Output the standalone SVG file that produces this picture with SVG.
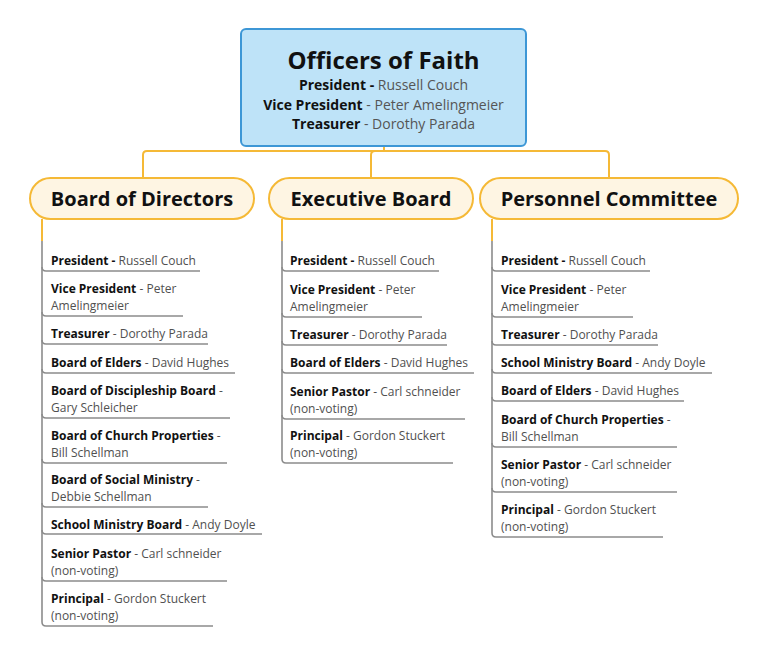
<svg xmlns="http://www.w3.org/2000/svg" width="768" height="657" viewBox="0 0 768 657">
<style>
.bg{fill:#ffffff}
.root{fill:#bee3f8;stroke:#3d97d6;stroke-width:2}
.pill{fill:#fef5e3;stroke:#f5b936;stroke-width:2}
.conn{fill:none;stroke:#f5b936;stroke-width:2}
.item{fill:none;stroke:#8c8c8c;stroke-width:1.6}
.t{font-family:"Open Sans","Noto Sans","DejaVu Sans",sans-serif}
.title{font-size:24px;font-weight:bold;fill:#111}
.rt{font-size:14px;fill:#555;text-anchor:middle}
.ht{font-size:20px;font-weight:bold;fill:#111;text-anchor:middle}
.it{font-size:12px;fill:#505050}
.b{font-weight:bold;fill:#111}
</style>
<rect class="bg" width="768" height="657"/>
<g id="connectors">
<path class="conn" d="M384 146 V151 M147 151 H605 M143 178 V155 Q143 151 147 151 M371 178 V155 Q371 151 375 151 M605 151 Q609 151 609 155 V178"/>
<path class="conn" d="M42 219 V241 M282 219 V241 M492 219 V241"/>
<path class="item" d="M42 241 V622 M282 241 V459 M492 241 V533"/>
<g id="dir-lines">
<path class="item" d="M42 267 Q42 271 46 271 H200"/>
<path class="item" d="M42 312 Q42 316 46 316 H183"/>
<path class="item" d="M42 340 Q42 344 46 344 H208"/>
<path class="item" d="M42 369 Q42 373 46 373 H235"/>
<path class="item" d="M42 414 Q42 418 46 418 H230"/>
<path class="item" d="M42 459 Q42 463 46 463 H227"/>
<path class="item" d="M42 503 Q42 507 46 507 H208"/>
<path class="item" d="M42 530 Q42 534 46 534 H262"/>
<path class="item" d="M42 577 Q42 581 46 581 H227"/>
<path class="item" d="M42 622 Q42 626 46 626 H213"/>
</g>
<g id="exec-lines">
<path class="item" d="M282 267 Q282 271 286 271 H439"/>
<path class="item" d="M282 313 Q282 317 286 317 H422"/>
<path class="item" d="M282 341 Q282 345 286 345 H447"/>
<path class="item" d="M282 369 Q282 373 286 373 H474"/>
<path class="item" d="M282 415 Q282 419 286 419 H465"/>
<path class="item" d="M282 459 Q282 463 286 463 H453"/>
</g>
<g id="pers-lines">
<path class="item" d="M492 267 Q492 271 496 271 H650"/>
<path class="item" d="M492 313 Q492 317 496 317 H633"/>
<path class="item" d="M492 341 Q492 345 496 345 H658"/>
<path class="item" d="M492 369 Q492 373 496 373 H712"/>
<path class="item" d="M492 397 Q492 401 496 401 H684"/>
<path class="item" d="M492 443 Q492 447 496 447 H677"/>
<path class="item" d="M492 488 Q492 492 496 492 H677"/>
<path class="item" d="M492 533 Q492 537 496 537 H663"/>
</g>
</g>
<g id="officers">
<rect class="root" x="241" y="29" width="285" height="117" rx="5"/>
<text class="t title" x="383.5" y="69" text-anchor="middle">Officers of Faith</text>
<text class="t rt" x="383.5" y="90"><tspan class="b">President - </tspan>Russell Couch</text>
<text class="t rt" x="383.5" y="109.5"><tspan class="b">Vice President</tspan> - Peter Amelingmeier</text>
<text class="t rt" x="383.5" y="129"><tspan class="b">Treasurer</tspan> - Dorothy Parada</text>
</g>
<g id="board-of-directors">
<rect class="pill" x="30" y="178" width="224" height="41" rx="20.5"/>
<text class="t ht" x="142" y="206">Board of Directors</text>
<g class="t it">
<text x="51" y="265"><tspan class="b">President - </tspan>Russell Couch</text>
<text x="51" y="293"><tspan class="b">Vice President</tspan> - Peter</text>
<text x="51" y="310">Amelingmeier</text>
<text x="51" y="338"><tspan class="b">Treasurer</tspan> - Dorothy Parada</text>
<text x="51" y="367"><tspan class="b">Board of Elders</tspan> - David Hughes</text>
<text x="51" y="395"><tspan class="b">Board of Discipleship Board</tspan> -</text>
<text x="51" y="412">Gary Schleicher</text>
<text x="51" y="440"><tspan class="b">Board of Church Properties</tspan> -</text>
<text x="51" y="457">Bill Schellman</text>
<text x="51" y="484"><tspan class="b">Board of Social Ministry</tspan> -</text>
<text x="51" y="501">Debbie Schellman</text>
<text x="51" y="529"><tspan class="b">School Ministry Board</tspan> - Andy Doyle</text>
<text x="51" y="558"><tspan class="b">Senior Pastor</tspan> - Carl schneider</text>
<text x="51" y="575">(non-voting)</text>
<text x="51" y="603"><tspan class="b">Principal</tspan> - Gordon Stuckert</text>
<text x="51" y="620">(non-voting)</text>
</g>
</g>
<g id="executive-board">
<rect class="pill" x="269" y="178" width="204" height="41" rx="20.5"/>
<text class="t ht" x="371" y="206">Executive Board</text>
<g class="t it">
<text x="290" y="265"><tspan class="b">President - </tspan>Russell Couch</text>
<text x="290" y="294"><tspan class="b">Vice President</tspan> - Peter</text>
<text x="290" y="311">Amelingmeier</text>
<text x="290" y="339"><tspan class="b">Treasurer</tspan> - Dorothy Parada</text>
<text x="290" y="367"><tspan class="b">Board of Elders</tspan> - David Hughes</text>
<text x="290" y="396"><tspan class="b">Senior Pastor</tspan> - Carl schneider</text>
<text x="290" y="413">(non-voting)</text>
<text x="290" y="440"><tspan class="b">Principal</tspan> - Gordon Stuckert</text>
<text x="290" y="457">(non-voting)</text>
</g>
</g>
<g id="personnel-committee">
<rect class="pill" x="480" y="178" width="258" height="41" rx="20.5"/>
<text class="t ht" x="609" y="206">Personnel Committee</text>
<g class="t it">
<text x="501" y="265"><tspan class="b">President - </tspan>Russell Couch</text>
<text x="501" y="294"><tspan class="b">Vice President</tspan> - Peter</text>
<text x="501" y="311">Amelingmeier</text>
<text x="501" y="339"><tspan class="b">Treasurer</tspan> - Dorothy Parada</text>
<text x="501" y="367"><tspan class="b">School Ministry Board</tspan> - Andy Doyle</text>
<text x="501" y="395"><tspan class="b">Board of Elders</tspan> - David Hughes</text>
<text x="501" y="424"><tspan class="b">Board of Church Properties</tspan> -</text>
<text x="501" y="441">Bill Schellman</text>
<text x="501" y="469"><tspan class="b">Senior Pastor</tspan> - Carl schneider</text>
<text x="501" y="486">(non-voting)</text>
<text x="501" y="514"><tspan class="b">Principal</tspan> - Gordon Stuckert</text>
<text x="501" y="531">(non-voting)</text>
</g>
</g>
</svg>
